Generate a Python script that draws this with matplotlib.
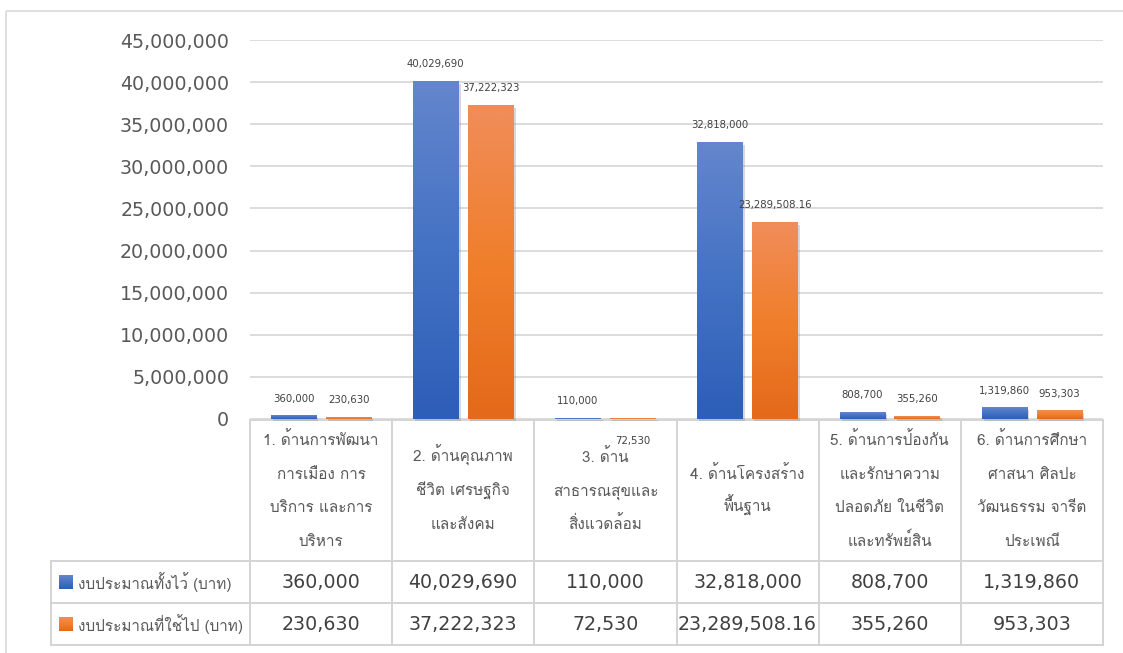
import numpy as np
import matplotlib
matplotlib.use("Agg")
import matplotlib.pyplot as plt
import matplotlib.patheffects as pe
from matplotlib import font_manager
from matplotlib.colors import LinearSegmentedColormap

# ---- data ----
categories = [
    "1. ด้านการพัฒนา\nการเมือง การ\nบริการ และการ\nบริหาร",
    "2. ด้านคุณภาพ\nชีวิต เศรษฐกิจ\nและสังคม",
    "3. ด้าน\nสาธารณสุขและ\nสิ่งแวดล้อม",
    "4. ด้านโครงสร้าง\nพื้นฐาน",
    "5. ด้านการป้องกัน\nและรักษาความ\nปลอดภัย ในชีวิต\nและทรัพย์สิน",
    "6. ด้านการศึกษา\nศาสนา ศิลปะ\nวัฒนธรรม จารีต\nประเพณี",
]
series_names = ["งบประมาณทั้งไว้ (บาท)", "งบประมาณที่ใช้ไป (บาท)"]
budget = [360000, 40029690, 110000, 32818000, 808700, 1319860]
spent = [230630, 37222323, 72530, 23289508.16, 355260, 953303]
y_ticks = [0, 5e6, 10e6, 15e6, 20e6, 25e6, 30e6, 35e6, 40e6, 45e6]

# label placement quirks (series index, category index) -> offset in points
label_offsets = {(1, 2): (0, -16.5)}


def find_thai_font():
    try:
        from fontTools.ttLib import TTFont
    except ImportError:
        return None
    for f in font_manager.fontManager.ttflist:
        if f.weight not in (400, "normal", "regular") or f.style != "normal":
            continue
        try:
            tt = TTFont(f.fname, fontNumber=0, lazy=True)
            cmap = tt.getBestCmap()
            if cmap and 0x0E14 in cmap:
                return f.name
        except Exception:
            continue
    return None


thai = find_thai_font()
thai_family = [thai, "DejaVu Sans"] if thai else ["DejaVu Sans"]


def fmt(v):
    return f"{v:,.2f}" if v != int(v) else f"{int(v):,}"


W, H = 1123, 653
fig = plt.figure(figsize=(W / 100, H / 100), dpi=100)
fig.patch.set_facecolor("white")


def px_box(x0, y0, x1, y1):
    return [x0 / W, 1 - y1 / H, (x1 - x0) / W, (y1 - y0) / H]


grid_c = "#D9D9D9"
text_c = "#404040"
tick_c = "#595959"

# overlay in pixel coords for frame + data table
tab = fig.add_axes([0, 0, 1, 1])
tab.set_xlim(0, W)
tab.set_ylim(H, 0)
tab.axis("off")

ax = fig.add_axes(px_box(250, 40, 1103, 419))
ax.set_facecolor("none")

blue_cm = LinearSegmentedColormap.from_list("b", ["#2D5EB8", "#4472C4", "#6486CD"])
orange_cm = LinearSegmentedColormap.from_list("o", ["#E4691A", "#F07F2C", "#F08D5A"])
grad = np.linspace(0, 1, 256).reshape(-1, 1)

x = np.arange(len(categories))
bar_w = 0.32
offs = [-0.193, 0.193]
shadow = [pe.SimplePatchShadow(offset=(1.5, -1.5), shadow_rgbFace="#808080", alpha=0.3), pe.Normal()]

for s, (vals, cm, mid) in enumerate([(budget, blue_cm, "#4472C4"), (spent, orange_cm, "#ED7D31")]):
    bars = ax.bar(x + offs[s], vals, width=bar_w, color=mid, zorder=3,
                  clip_on=False, path_effects=shadow)
    for i, b in enumerate(bars):
        im = ax.imshow(grad, extent=[b.get_x(), b.get_x() + b.get_width(), 0, b.get_height()],
                       origin="lower", aspect="auto", cmap=cm, zorder=4,
                       interpolation="bilinear", clip_on=False)
        im.set_clip_path(b)
        dx, dy = label_offsets.get((s, i), (0, 12.5))
        ax.annotate(fmt(vals[i]), (b.get_x() + b.get_width() / 2, vals[i]),
                    xytext=(dx, dy), textcoords="offset points", ha="center", va="center",
                    fontsize=7.3, color=text_c, zorder=6, annotation_clip=False)

ax.set_xlim(-0.5, len(categories) - 0.5)
ax.set_ylim(0, 45e6)
ax.set_yticks(y_ticks)
ax.set_yticklabels([fmt(t) for t in y_ticks])
ax.set_xticks([])
ax.tick_params(axis="y", length=0, pad=15, labelsize=13.7, labelcolor=tick_c)
ax.yaxis.grid(True, color=grid_c, linewidth=1.3)
ax.set_axisbelow(True)
for sp in ax.spines.values():
    sp.set_visible(False)

# ---- frame ----
tab.plot([6, W + 5], [11, 11], color=grid_c, lw=1.2, solid_capstyle="butt")
tab.plot([6, 6], [11, H + 5], color=grid_c, lw=1.2, solid_capstyle="butt")

# ---- data table ----
col_edges = np.linspace(250, 1103, len(categories) + 1)
col_mid = (col_edges[:-1] + col_edges[1:]) / 2
row_y = [420, 561, 603, 645]
lc = "#D4D4D4"
tab.plot([250, 1103], [row_y[0], row_y[0]], color=lc, lw=1.4)
for yy in row_y[1:]:
    tab.plot([51, 1103], [yy, yy], color=lc, lw=1.4)
for xx in col_edges:
    tab.plot([xx, xx], [row_y[0], row_y[-1]], color=lc, lw=1.4)
tab.plot([51, 51], [row_y[1], row_y[-1]], color=lc, lw=1.4)

# category labels, one text per line so the Thai marks don't skew the spacing
line_gap = 33.5
head_mid = 491.5
for cx, lab in zip(col_mid, categories):
    lines = lab.split("\n")
    n = len(lines)
    for k, ln in enumerate(lines):
        yb = head_mid + (k - (n - 1) / 2) * line_gap + 4
        tab.text(cx, yb, ln, ha="center", va="baseline", fontsize=11, color=tick_c,
                 family=thai_family)

for r, (name, vals, cm) in enumerate([(series_names[0], budget, blue_cm),
                                      (series_names[1], spent, orange_cm)]):
    yc = (row_y[r + 1] + row_y[r + 2]) / 2
    tab.imshow(grad, extent=[59, 73, yc + 7, yc - 7], origin="lower", aspect="auto",
               cmap=cm, interpolation="bilinear")
    tab.text(78, yc, name, ha="left", va="center", fontsize=11, color=tick_c,
             family=thai_family)
    for cx, v in zip(col_mid, vals):
        tab.text(cx, yc, fmt(v), ha="center", va="center", fontsize=13.7, color=text_c)

tab.set_xlim(0, W)
tab.set_ylim(H, 0)

fig.savefig("out.png", dpi=100, facecolor="white")
